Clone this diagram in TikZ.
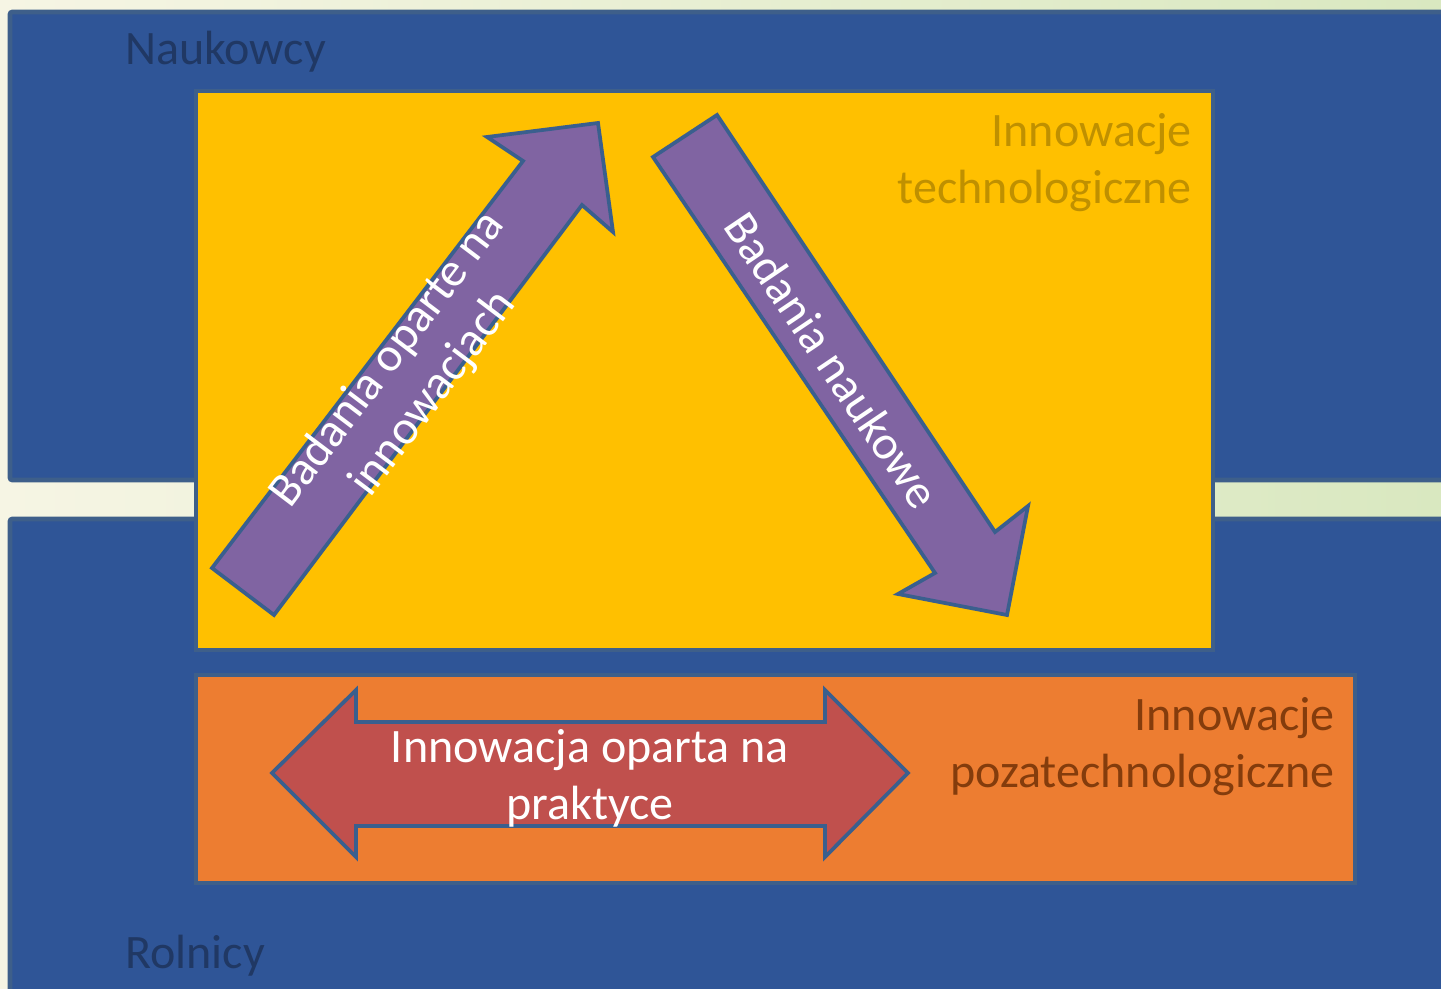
\documentclass[tikz,border=0pt]{standalone}
\usepackage{fontspec}
\setmainfont{Carlito}
\usetikzlibrary{positioning}

\definecolor{bandblue}{HTML}{2F5597}
\definecolor{rimblue}{HTML}{3E5F8A}
\definecolor{edgeblue}{HTML}{3A5F8E}
\definecolor{techyellow}{HTML}{FFC000}
\definecolor{softorange}{HTML}{ED7D31}
\definecolor{arrowpurple}{HTML}{8064A2}
\definecolor{arrowred}{HTML}{C0504D}
\definecolor{darkblue}{HTML}{203864}
\definecolor{darkyellow}{HTML}{BF9000}
\definecolor{darkbrown}{HTML}{843C0C}
\definecolor{bgcream}{HTML}{F6F5E4}
\definecolor{bggreen}{HTML}{D9E8C0}

\begin{document}
\begin{tikzpicture}[x=0.03cm,y=-0.03cm,
        band/.style={fill=bandblue,draw=rimblue,line width=4pt,rounded corners=2pt},
        panel/.style={draw=rimblue,line width=3.4pt},
        block arrow/.style={draw=edgeblue,line width=3.2pt,line join=miter},
        caption/.style={inner sep=0pt,font=\fontsize{41}{48.5}\selectfont}]
    \useasboundingbox (0,0) rectangle (1441,989);
    \clip (0,0) rectangle (1441,989);
    \shade[left color=bgcream,right color=bggreen] (0,0) rectangle (1441,989);
    % two groups
    \draw[band] (10,12) rectangle (1470,480);
    \draw[band] (10,519) rectangle (1470,1010);
    \node[caption,text=darkblue,anchor=base west] (naukowcy) at (125,65) {Naukowcy};
    \node[caption,text=darkblue,anchor=base west] (rolnicy) at (125,968) {Rolnicy};
    % innovation fields
    \draw[panel,fill=techyellow] (196,91) rectangle (1213,650);
    \draw[panel,fill=softorange] (196,675) rectangle (1355,883);
    \node[caption,text=darkyellow,align=right,anchor=base east] (techn) at (1192,203) {Innowacje\\technologiczne};
    \node[caption,text=darkbrown,align=right,anchor=base east] (pozatechn) at (1335,787) {Innowacje\\pozatechnologiczne};
    % research arrows
    \draw[block arrow,fill=arrowpurple] (212,568) -- (523,161) -- (487,137) -- (598,123)
        -- (613,232) -- (582,205) -- (274,615) -- cycle;
    \draw[block arrow,fill=arrowpurple] (653,157) -- (717,115) -- (995,532) -- (1028,506)
        -- (1007,615) -- (898,594) -- (935,573) -- cycle;
    \node[caption,text=white,rotate=52.9,align=center] (oparte) at (411,377) {Badania oparte na\\innowacjach};
    \node[caption,text=white,rotate=-56] (naukowe) at (832,360) {Badania naukowe};
    % practice arrow
    \draw[block arrow,fill=arrowred] (272,773) -- (356,690) -- (356,722) -- (825,722) -- (825,690)
        -- (908,773) -- (825,857) -- (825,826) -- (356,826) -- (356,857) -- cycle;
    \node[caption,text=white,align=center,anchor=base] (praktyka) at (590,819) {Innowacja oparta na\\praktyce};
\end{tikzpicture}
\end{document}
